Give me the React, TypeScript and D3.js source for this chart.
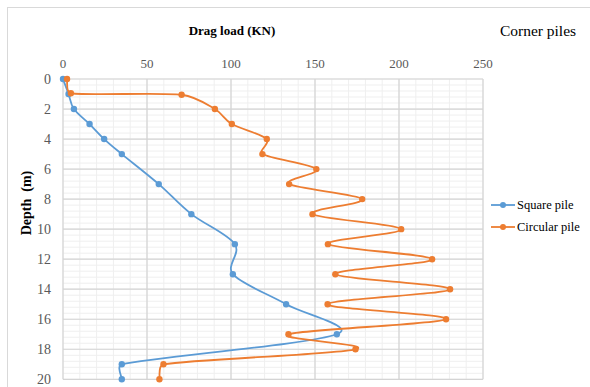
import React from "react";
import * as d3 from "d3";

const xTicks = [0, 50, 100, 150, 200, 250];
const yTicks = [0, 2, 4, 6, 8, 10, 12, 14, 16, 18, 20];

const squareDepth = [0, 1, 2, 3, 4, 5, 7, 9, 11, 13, 15, 17, 19, 20];
const squareLoad = [0, 3.3, 6.5, 15.8, 24.5, 35, 57, 76.4, 102.3, 101.1, 132.8, 163, 35, 35];

const circularDepth = [0, 0.95, 1.05, 2, 3, 4, 5, 6, 7, 8, 9, 10, 11, 12, 13, 14, 15, 16, 17, 18, 19, 20];
const circularLoad = [2.4, 4.7, 70.6, 90.4, 100.5, 121.3, 118.7, 150.8, 134.6, 178.1, 148.5, 201.3, 157.7, 219.7, 162.1, 230.4, 157.5, 228, 134.2, 174.1, 59.8, 57.4];

const seriesNames = ["Square pile", "Circular pile"];
const colors = ["#5b9bd5", "#ed7d31"];

const W = 590;
const H = 387;
const left = 63;
const right = 483;
const top = 79;
const bottom = 379.3;

// Excel-like smoothed line: Catmull-Rom handles, clamped relative to segment length
function smoothPath(pts: [number, number][], k = 0.38): string {
  const p = d3.path();
  const n = pts.length;
  if (!n) return "";
  const handle = (i: number, L: number): [number, number] => {
    const a = pts[Math.max(0, i - 1)];
    const b = pts[Math.min(n - 1, i + 1)];
    let dx = (b[0] - a[0]) / 6;
    let dy = (b[1] - a[1]) / 6;
    const l = Math.hypot(dx, dy);
    const max = L * k;
    if (l > max && l > 0) {
      dx = (dx / l) * max;
      dy = (dy / l) * max;
    }
    return [dx, dy];
  };
  p.moveTo(pts[0][0], pts[0][1]);
  for (let i = 0; i < n - 1; i++) {
    const a = pts[i];
    const b = pts[i + 1];
    const L = Math.hypot(b[0] - a[0], b[1] - a[1]);
    const ha = handle(i, L);
    const hb = handle(i + 1, L);
    p.bezierCurveTo(a[0] + ha[0], a[1] + ha[1], b[0] - hb[0], b[1] - hb[1], b[0], b[1]);
  }
  return p.toString();
}

export default function App() {
  const x = d3.scaleLinear().domain([0, 250]).range([left, right]);
  const y = d3.scaleLinear().domain([0, 20]).range([top, bottom]);

  const series = [
    squareDepth.map((d, i) => [squareLoad[i], d] as [number, number]),
    circularDepth.map((d, i) => [circularLoad[i], d] as [number, number]),
  ];

  const xMinor = d3.range(0, 251, 10);
  const yMinor = d3.range(0, 20.01, 0.4);
  const font = "Liberation Serif, DejaVu Serif, serif";

  return (
    <div style={{ position: "absolute", left: 0, top: 0 }}>
      <svg width={W} height={H} style={{ display: "block", background: "#fff" }}>
        <rect x={7.5} y={7.5} width={700} height={500} fill="#fff" stroke="#d9d9d9" />
        {xMinor.map((v) => (
          <line key={"xm" + v} x1={x(v)} x2={x(v)} y1={top} y2={bottom} stroke="#efefef" strokeWidth={1} />
        ))}
        {yMinor.map((v, i) => (
          <line key={"ym" + i} x1={left} x2={right} y1={y(v)} y2={y(v)} stroke="#efefef" strokeWidth={1} />
        ))}
        {xTicks.map((v) => (
          <line key={"xg" + v} x1={x(v)} x2={x(v)} y1={top} y2={bottom} stroke="#d4d4d4" strokeWidth={1.2} />
        ))}
        {yTicks.map((v) => (
          <line key={"yg" + v} x1={left} x2={right} y1={y(v)} y2={y(v)} stroke="#d4d4d4" strokeWidth={1.2} />
        ))}
        {xTicks.map((v) => (
          <text key={"xt" + v} x={x(v)} y={68} textAnchor="middle" fontFamily={font} fontSize={13} fill="#595959">
            {v}
          </text>
        ))}
        {yTicks.map((v) => (
          <text key={"yt" + v} x={51} y={y(v) + 4.5} textAnchor="end" fontFamily={font} fontSize={14} fill="#595959">
            {v}
          </text>
        ))}
        <text x={232} y={35} textAnchor="middle" fontFamily={font} fontSize={13} fontWeight="bold" fill="#000">
          Drag load (KN)
        </text>
        <text x={538} y={36} textAnchor="middle" fontFamily={font} fontSize={15.5} fill="#000">
          Corner piles
        </text>
        <text
          transform={`translate(31,203) rotate(-90)`}
          textAnchor="middle"
          fontFamily={font}
          fontSize={14}
          fontWeight="bold"
          fill="#000"
          xmlSpace="preserve"
        >
          Depth  (m)
        </text>
        {series.map((s, i) => {
          const pts = s.map((d) => [x(d[0]), y(d[1])] as [number, number]);
          return (
            <g key={"s" + i}>
              <path d={smoothPath(pts)} fill="none" stroke={colors[i]} strokeWidth={1.8} />
              {pts.map((p, j) => (
                <circle key={j} cx={p[0]} cy={p[1]} r={3.2} fill={colors[i]} />
              ))}
            </g>
          );
        })}
        {seriesNames.map((n, i) => (
          <g key={"l" + i} transform={`translate(491,${205 + i * 22})`}>
            <line x1={0} x2={24} y1={0} y2={0} stroke={colors[i]} strokeWidth={1.8} />
            <circle cx={12} cy={0} r={3} fill={colors[i]} />
            <text x={26} y={4} fontFamily={font} fontSize={12.5} fill="#000">
              {n}
            </text>
          </g>
        ))}
      </svg>
    </div>
  );
}
